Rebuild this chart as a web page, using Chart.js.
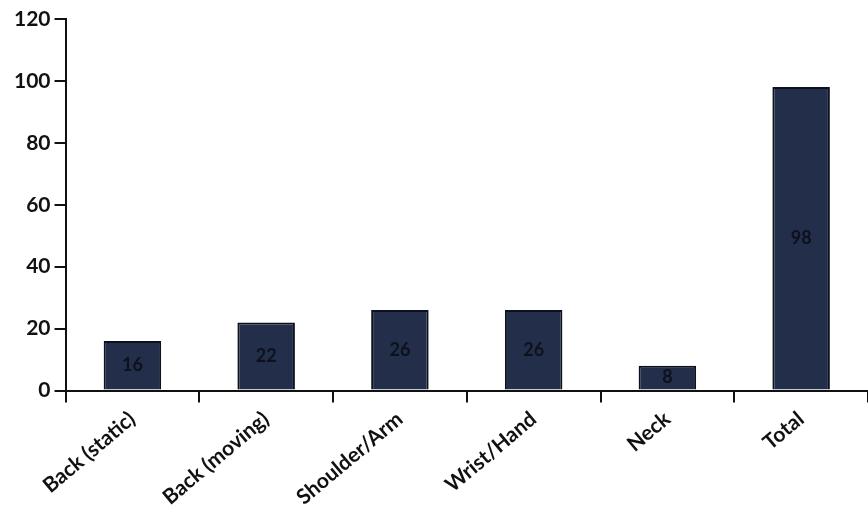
<!DOCTYPE html>
<html>
<head>
<meta charset="utf-8">
<script src="https://cdn.jsdelivr.net/npm/chart.js@4/dist/chart.umd.min.js"></script>
<style>
  html, body { margin: 0; padding: 0; background: #fff; }
  #wrap { width: 868px; height: 524px; }
</style>
</head>
<body>
<div id="wrap"><canvas id="myChart"></canvas></div>
<script>
const categories = ["Back (static)", "Back (moving)", "Shoulder/Arm", "Wrist/Hand", "Neck", "Total"];
const counts = [16, 22, 26, 26, 8, 98];
const yTicks = [0, 20, 40, 60, 80, 100, 120];

// write the value in the middle of each bar
const barLabels = {
    id: "barLabels",
    afterDatasetsDraw(chart) {
        let ctx = chart.ctx;
        let meta = chart.getDatasetMeta(0);
        ctx.save();
        ctx.font = "bold 18px Lato";
        ctx.fillStyle = "#0c111c";
        ctx.textAlign = "center";
        ctx.textBaseline = "middle";
        meta.data.forEach(function(bar, i) {
            let mid = (bar.y + bar.base) / 2;
            ctx.fillText(counts[i], bar.x, mid);
        });
        ctx.restore();
    }
};

let myChart = document.getElementById("myChart").getContext("2d");
let painChart = new Chart(myChart, {
    type: "bar",
    data: {
        labels: categories,
        datasets: [{
            data: counts,
            backgroundColor: "#232f4a",
            borderColor: "#0c1120",
            borderWidth: 2,
            categoryPercentage: 1,
            barPercentage: 0.43
        }]
    },
    options: {
        responsive: true,
        maintainAspectRatio: false,
        animation: false,
        layout: { padding: { left: 10, top: 19, right: 0, bottom: 10 } },
        plugins: {
            legend: { display: false },
            title: { display: false },
            tooltip: { enabled: false }
        },
        scales: {
            y: {
                min: 0,
                max: 120,
                afterBuildTicks: function(axis) {
                    axis.ticks = yTicks.map(function(v) { return { value: v }; });
                },
                border: { color: "#111", width: 2 },
                grid: { drawOnChartArea: false, color: "#111", lineWidth: 2, tickLength: 11 },
                ticks: {
                    color: "#111",
                    padding: 4,
                    font: { family: "Lato", weight: "bold", size: 21 }
                }
            },
            x: {
                offset: true,
                border: { color: "#111", width: 2 },
                grid: { offset: true, drawOnChartArea: false, color: "#111", lineWidth: 2, tickLength: 12 },
                ticks: {
                    color: "#111",
                    minRotation: 40,
                    maxRotation: 40,
                    padding: 4,
                    font: { family: "Lato", weight: "bold", size: 21 }
                }
            }
        }
    },
    plugins: [barLabels]
});
</script>
</body>
</html>
